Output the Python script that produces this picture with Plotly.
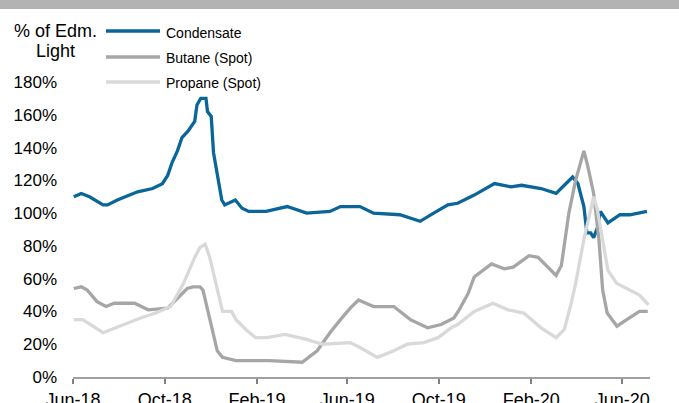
import plotly.graph_objects as go

cond_dates = ["2018-06-02","2018-06-12","2018-06-23","2018-07-11","2018-07-17","2018-07-30","2018-08-26",
              "2018-09-15","2018-09-28","2018-10-05","2018-10-11","2018-10-18","2018-10-24","2018-11-01",
              "2018-11-10","2018-11-13","2018-11-18","2018-11-25","2018-11-27","2018-12-02","2018-12-05",
              "2018-12-10","2018-12-16","2018-12-20","2019-01-03","2019-01-12","2019-01-21","2019-02-04",
              "2019-02-13","2019-03-13","2019-04-08","2019-05-09","2019-05-23","2019-06-18","2019-07-06",
              "2019-08-10","2019-09-06","2019-09-24","2019-10-13","2019-10-26","2019-11-17","2019-12-14",
              "2020-01-05","2020-01-19","2020-02-14","2020-03-05","2020-03-24","2020-03-27","2020-04-03",
              "2020-04-11","2020-04-15","2020-04-20","2020-04-24","2020-04-29","2020-05-03","2020-05-13",
              "2020-05-29","2020-06-11","2020-07-04"]
cond_vals = [110,112,110,105,105,108,113,
             115,118,123,131,138,146,150,
             156,166,170,170,162,159,137,
             124,108,105,108,103,101,101,
             101,104,100,101,104,104,100,
             99,95,100,105,106,111,118,
             116,117,115,112,121,122,118,
             104,88,88,85,91,101,94,
             99,99,101]

but_dates = ["2018-06-02","2018-06-12","2018-06-20","2018-07-03","2018-07-15","2018-07-26","2018-08-22",
             "2018-09-09","2018-10-05","2018-10-18","2018-10-31","2018-11-08","2018-11-17","2018-11-21",
             "2018-11-27","2018-12-04","2018-12-10","2018-12-17","2019-01-04","2019-02-17","2019-04-02",
             "2019-04-22","2019-05-09","2019-05-23","2019-06-05","2019-06-16","2019-07-06","2019-08-02",
             "2019-08-24","2019-09-16","2019-10-04","2019-10-21","2019-10-28","2019-11-09","2019-11-17",
             "2019-12-10","2019-12-27","2020-01-08","2020-01-29","2020-02-10","2020-03-05","2020-03-12",
             "2020-03-22","2020-03-31","2020-04-11","2020-04-16","2020-04-24","2020-05-01","2020-05-06",
             "2020-05-12","2020-05-25","2020-06-07","2020-06-24","2020-07-05"]
but_vals = [54,55,53,46,43,45,45,
            41,42,48,54,55,55,53,
            41,29,16,12,10,10,9,
            16,27,35,42,47,43,43,
            35,30,32,36,41,51,61,
            69,66,67,74,73,62,68,
            100,120,138,129,112,84,53,
            39,31,35,40,40]

prop_dates = ["2018-06-02","2018-06-14","2018-07-11","2018-08-07","2018-08-30","2018-09-19","2018-10-09",
              "2018-10-26","2018-11-10","2018-11-17","2018-11-24","2018-11-30","2018-12-09","2018-12-17",
              "2018-12-29","2019-01-04","2019-01-17","2019-01-30","2019-02-14","2019-03-10","2019-04-08",
              "2019-04-29","2019-06-05","2019-06-18","2019-07-11","2019-08-02","2019-08-20","2019-09-11",
              "2019-09-30","2019-10-17","2019-10-26","2019-11-17","2019-12-12","2020-01-01","2020-01-22",
              "2020-02-14","2020-03-05","2020-03-16","2020-03-24","2020-03-31","2020-04-11","2020-04-20",
              "2020-04-24","2020-04-29","2020-05-06","2020-05-13","2020-05-25","2020-06-11","2020-06-24",
              "2020-07-06"]
prop_vals = [35,35,27,32,36,39,43,
             57,73,79,81,73,55,40,
             40,35,29,24,24,26,23,
             20,21,18,12,16,20,21,
             24,30,32,40,45,41,39,
             30,24,29,43,57,84,101,
             110,102,84,65,57,53,50,
             44]

series_names = ["Condensate", "Butane (Spot)", "Propane (Spot)"]
series_colors = ["#0a6699", "#a6a6a6", "#d9d9d9"]

y_ticks = [0, 20, 40, 60, 80, 100, 120, 140, 160, 180]
y_tick_labels = [f"{v}%" for v in y_ticks]

fig = go.Figure()
for name, color, d, v in [
    (series_names[0], series_colors[0], cond_dates, cond_vals),
    (series_names[1], series_colors[1], but_dates, but_vals),
    (series_names[2], series_colors[2], prop_dates, prop_vals),
]:
    fig.add_trace(go.Scatter(x=d, y=v, mode="lines", name=name, showlegend=False,
                             line=dict(color=color, width=3.3)))

W, H = 679, 403
L, R, T, B = 73, 29, 82, 26
pw = W - L - R
ph = H - T - B

def px_x(x):
    return (x - L) / pw

def px_y(y):
    return (H - B - y) / ph

shapes = [dict(type="rect", xref="paper", yref="paper",
               x0=px_x(-10), x1=px_x(W + 40), y0=px_y(9), y1=px_y(-10),
               fillcolor="#b3b3b3", line=dict(width=0), layer="above")]
annotations = [
    dict(text="% of Edm.", xref="paper", yref="paper", x=px_x(55), y=px_y(31),
         xanchor="center", yanchor="middle", showarrow=False, font=dict(size=18)),
    dict(text="Light", xref="paper", yref="paper", x=px_x(55), y=px_y(51),
         xanchor="center", yanchor="middle", showarrow=False, font=dict(size=18)),
]
# legend drawn as key lines + labels
legend_line_y = [31, 57, 82]
legend_text_y = [33, 58, 83]
for name, color, ly, ty in zip(series_names, series_colors, legend_line_y, legend_text_y):
    shapes.append(dict(type="line", xref="paper", yref="paper",
                       x0=px_x(106), x1=px_x(160), y0=px_y(ly), y1=px_y(ly),
                       line=dict(color=color, width=3.3)))
    annotations.append(dict(text=name, xref="paper", yref="paper", x=px_x(164), y=px_y(ty),
                            xanchor="left", yanchor="middle", showarrow=False,
                            font=dict(size=14)))

fig.update_layout(
    width=W, height=H,
    margin=dict(l=L, r=R, t=T, b=B, autoexpand=False),
    paper_bgcolor="white", plot_bgcolor="white",
    font=dict(family="Liberation Sans, Arial", color="#000000", size=14),
    showlegend=False,
    xaxis=dict(type="date", range=["2018-06-01", "2020-07-08"],
               tick0="2018-06-01", dtick="M4", tickformat="%b-%y",
               showgrid=False, zeroline=False,
               showline=True, linecolor="#a0a0a0", linewidth=2,
               ticks="outside", ticklen=5, tickwidth=1.5, tickcolor="#808080",
               tickfont=dict(size=18)),
    yaxis=dict(range=[0, 180], tickvals=y_ticks, ticktext=y_tick_labels,
               showgrid=False, zeroline=False, showline=False,
               ticks="", ticklabelstandoff=15, tickfont=dict(size=17)),
    shapes=shapes,
    annotations=annotations,
)

fig.write_html("out.html", config={"displayModeBar": False},
               post_script=("document.documentElement.style.overflow='hidden';"
                            "document.body.style.margin='0';document.body.style.overflow='hidden';"))
